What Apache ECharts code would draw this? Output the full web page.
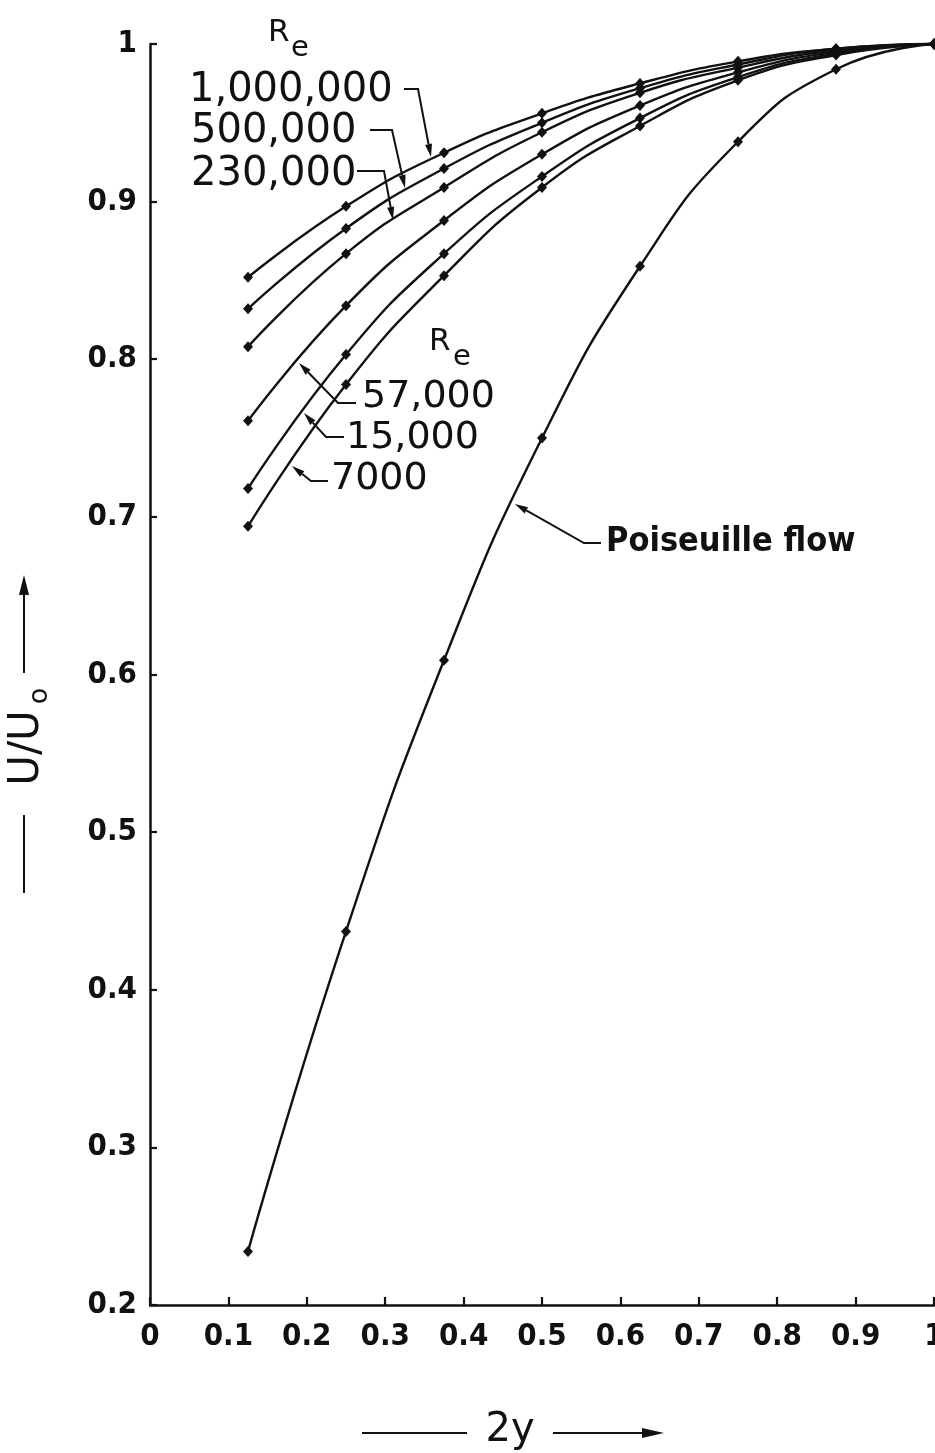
<!DOCTYPE html>
<html>
<head>
<meta charset="utf-8">
<script src="https://cdn.jsdelivr.net/npm/echarts@6/dist/echarts.min.js"></script>
<style>
  html, body { margin: 0; padding: 0; background: #fff; }
  #chart { width: 935px; height: 1453px; }
</style>
</head>
<body>
<div id="chart"></div>
<script>
// Velocity profiles across the channel, U/U0 against 2y
const positions = [0.125, 0.25, 0.375, 0.5, 0.625, 0.75, 0.875, 1.0];

const re1000000 = [0.852, 0.897, 0.931, 0.956, 0.975, 0.989, 0.997, 1.0];
const re500000  = [0.832, 0.883, 0.921, 0.950, 0.972, 0.987, 0.997, 1.0];
const re230000  = [0.808, 0.867, 0.909, 0.944, 0.969, 0.985, 0.996, 1.0];
const re57000   = [0.761, 0.834, 0.888, 0.930, 0.961, 0.982, 0.995, 1.0];
const re15000   = [0.718, 0.803, 0.867, 0.916, 0.953, 0.979, 0.994, 1.0];
const re7000    = [0.694, 0.784, 0.853, 0.909, 0.948, 0.977, 0.993, 1.0];
const poiseuille = [0.234, 0.437, 0.609, 0.750, 0.859, 0.938, 0.984, 1.0];

const xTickLabels = ['0', '0.1', '0.2', '0.3', '0.4', '0.5', '0.6', '0.7', '0.8', '0.9', '1'];
const yTickLabels = ['', '', '0.2', '0.3', '0.4', '0.5', '0.6', '0.7', '0.8', '0.9', '1'];

const profiles = [
  { name: '1,000,000', values: re1000000 },
  { name: '500,000', values: re500000 },
  { name: '230,000', values: re230000 },
  { name: '57,000', values: re57000 },
  { name: '15,000', values: re15000 },
  { name: '7000', values: re7000 },
  { name: 'Poiseuille flow', values: poiseuille }
];

const INK = '#111';
const tickFont = "'Liberation Sans Narrow', 'DejaVu Sans Condensed', 'Roboto Condensed', sans-serif";
const letterFont = "'DejaVu Sans', 'Noto Sans', sans-serif";

function pairs(vals) {
  return positions.map((x, i) => [x, vals[i]]);
}

// leader line ending in a filled arrowhead
function arrow(pts, headLen, headHalf) {
  headLen = headLen || 13;
  headHalf = headHalf || 3.5;
  const n = pts.length;
  const tip = pts[n - 1], prev = pts[n - 2];
  const dx = tip[0] - prev[0], dy = tip[1] - prev[1];
  const len = Math.sqrt(dx * dx + dy * dy);
  const ux = dx / len, uy = dy / len;
  const bx = tip[0] - ux * headLen, by = tip[1] - uy * headLen;
  const line = pts.slice(0, n - 1).concat([[bx, by]]);
  return [
    { type: 'polyline', shape: { points: line }, style: { stroke: INK, lineWidth: 2, fill: null }, z: 10 },
    { type: 'polygon', shape: { points: [tip, [bx - uy * headHalf, by + ux * headHalf], [bx + uy * headHalf, by - ux * headHalf]] },
      style: { fill: INK }, z: 10 }
  ];
}

function label(text, x, y, size, opts) {
  return Object.assign({
    type: 'text', x: x, y: y, z: 10,
    style: { text: text, fill: INK, font: (size) + 'px ' + letterFont, textVerticalAlign: 'middle', textAlign: 'left' }
  }, opts || {});
}

const graphics = [].concat(
  // upper group of Reynolds numbers
  [label('R', 268, 33, 31), label('e', 291, 48, 29)],
  [label('1,000,000', 189, 91, 40), label('500,000', 191, 132, 40), label('230,000', 191, 175, 40)],
  arrow([[404, 89], [418, 89], [431, 157]]),
  arrow([[370, 130], [392, 130], [405, 188]]),
  arrow([[357, 171], [384, 171], [393, 220]]),
  // lower group
  [label('R', 429, 342, 31), label('e', 453, 357, 29)],
  [label('57,000', 362, 397, 38), label('15,000', 346, 438, 38), label('7000', 331, 479, 38)],
  arrow([[356, 403], [338, 403], [299, 363]]),
  arrow([[344, 437], [326, 437], [304, 413]]),
  arrow([[328, 481], [311, 481], [292, 466]]),
  // laminar profile
  [{ type: 'text', x: 606, y: 542, z: 10,
     style: { text: 'Poiseuille flow', fill: INK, font: 'bold 34px ' + tickFont, textVerticalAlign: 'middle' } }],
  arrow([[601, 543], [584, 543], [515, 504]]),
  // y axis title
  [{ type: 'text', x: 27, y: 748, rotation: Math.PI / 2, z: 10,
     style: { text: 'U/U', fill: INK, font: '42px ' + letterFont, textAlign: 'center', textVerticalAlign: 'middle' } },
   { type: 'text', x: 40, y: 696, rotation: Math.PI / 2, z: 10,
     style: { text: 'o', fill: INK, font: '27px ' + letterFont, textAlign: 'center', textVerticalAlign: 'middle' } },
   { type: 'line', shape: { x1: 24, y1: 815, x2: 24, y2: 893 }, style: { stroke: INK, lineWidth: 2 } }],
  arrow([[24, 673], [24, 575]], 20, 5),
  // x axis title
  [{ type: 'line', shape: { x1: 362, y1: 1433, x2: 467, y2: 1433 }, style: { stroke: INK, lineWidth: 2 } },
   { type: 'text', x: 510, y: 1431, z: 10,
     style: { text: '2y', fill: INK, font: '40px ' + letterFont, textAlign: 'center', textVerticalAlign: 'middle' } }],
  arrow([[553, 1433], [664, 1433]], 22, 5)
);

const chart = echarts.init(document.getElementById('chart'), null, { renderer: 'canvas' });

chart.setOption({
  backgroundColor: '#fff',
  animation: false,
  grid: { left: 150, right: 1, top: 44, bottom: 148, containLabel: false, outerBoundsMode: 'none' },
  xAxis: {
    type: 'value', min: 0, max: 1, interval: 0.1,
    axisLine: { show: true, onZero: false, lineStyle: { color: INK, width: 2.5 } },
    axisTick: { show: true, inside: true, length: 8, lineStyle: { color: INK, width: 2.2 } },
    splitLine: { show: false },
    axisLabel: {
      margin: 16, color: INK, fontSize: 31, fontWeight: 'bold', fontFamily: tickFont,
      hideOverlap: false, showMinLabel: true, showMaxLabel: true,
      formatter: v => xTickLabels[Math.round(v * 10)]
    }
  },
  yAxis: {
    type: 'value', min: 0.2, max: 1, interval: 0.1,
    axisLine: { show: true, onZero: false, lineStyle: { color: INK, width: 2.5 } },
    axisTick: { show: true, inside: true, length: 7, lineStyle: { color: INK, width: 2.2 } },
    splitLine: { show: false },
    axisLabel: {
      margin: 13, color: INK, fontSize: 31, fontWeight: 'bold', fontFamily: tickFont,
      formatter: v => yTickLabels[Math.round(v * 10)]
    }
  },
  series: profiles.map(p => ({
    name: p.name,
    type: 'line',
    data: pairs(p.values),
    smooth: 0.5,
    clip: false,
    symbol: 'diamond',
    symbolSize: [10, 11],
    itemStyle: { color: INK },
    lineStyle: { color: INK, width: 2.4 }
  })),
  graphic: graphics
});
</script>
</body>
</html>
